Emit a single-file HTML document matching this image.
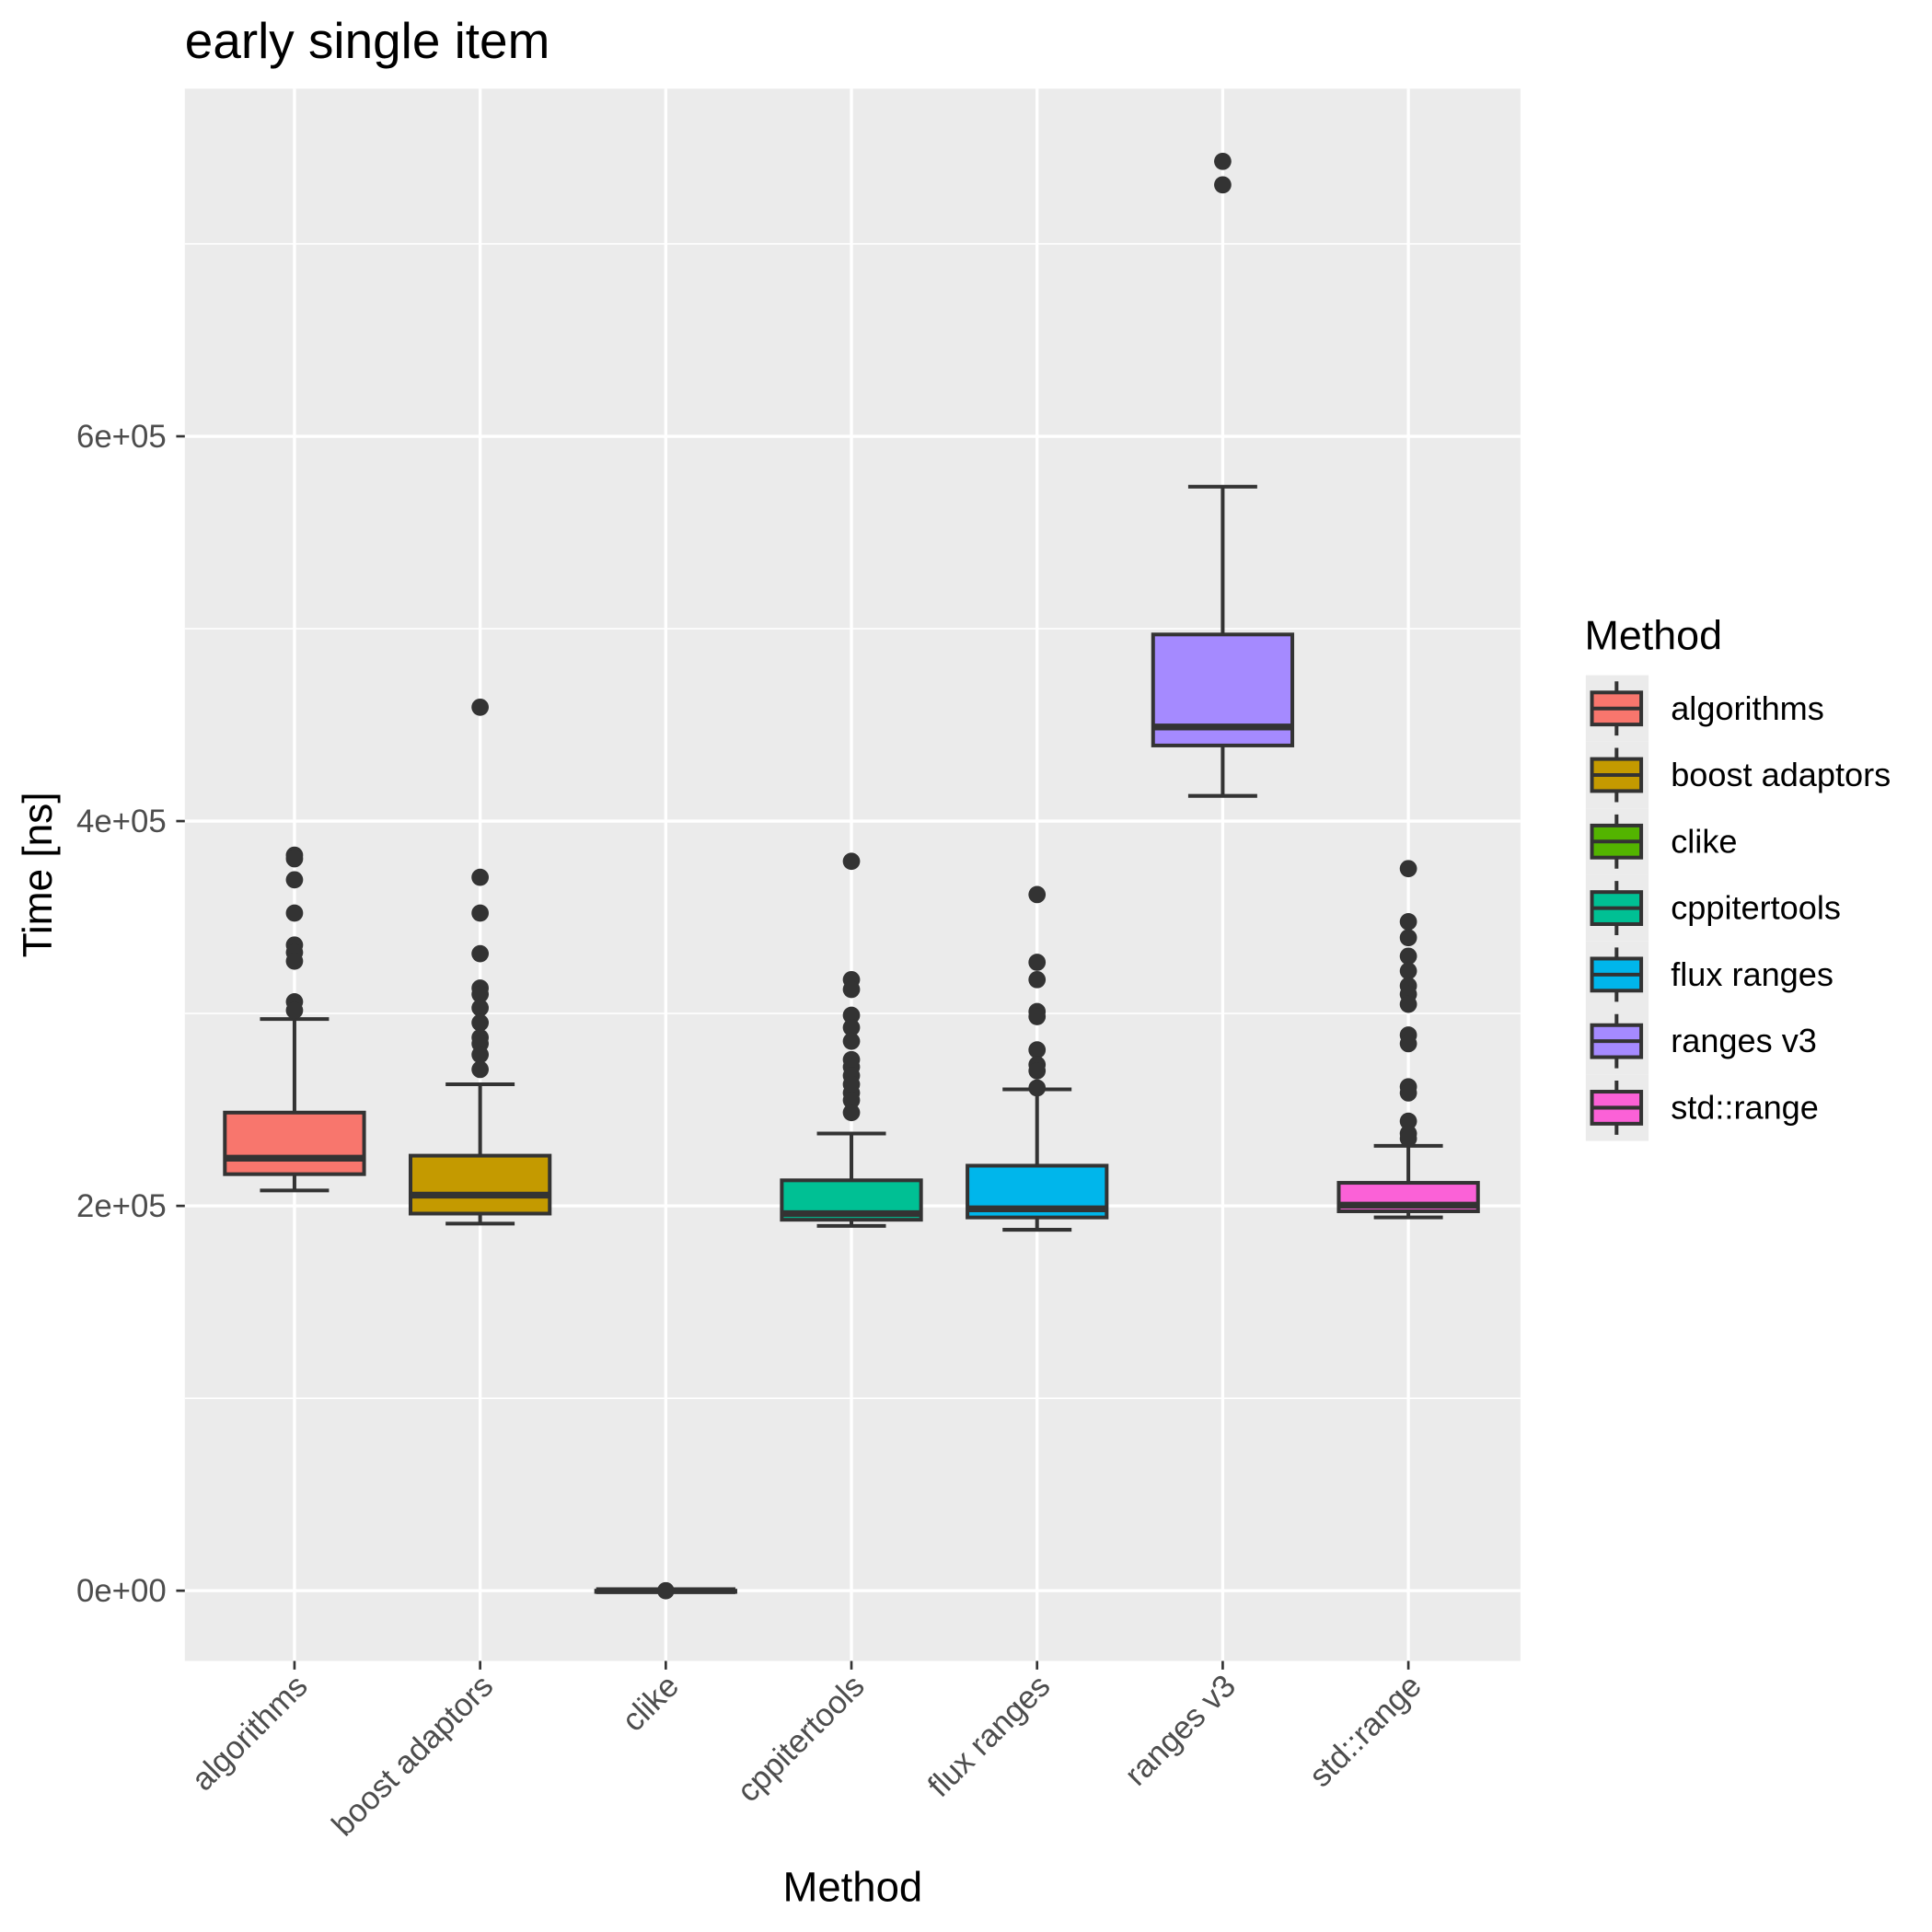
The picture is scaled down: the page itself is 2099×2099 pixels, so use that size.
<!DOCTYPE html>
<html><head><meta charset="utf-8"><style>html,body{margin:0;padding:0;background:#fff}svg{display:block}</style></head>
<body>
<svg id="chart" width="2099" height="2099" viewBox="0 0 1568 1568" xmlns="http://www.w3.org/2000/svg" font-family="Liberation Sans, sans-serif">
<rect x="0" y="0" width="1568" height="1568" fill="#fff"/>
<text x="150" y="47" font-size="41" fill="#000">early single item</text>
<rect x="150" y="72" width="1084" height="1276" fill="#ebebeb"/>
<g id="grid"></g>
<g id="marks"></g>
<g id="axes"></g>
<text transform="translate(42,710) rotate(-90)" text-anchor="middle" font-size="33" fill="#000">Time [ns]</text>
<text x="692" y="1543" text-anchor="middle" font-size="34" fill="#000">Method</text>
<g id="legend">
<text x="1286" y="527" font-size="33.5" fill="#000">Method</text>
</g>
</svg>
<script>
const categories = ["algorithms","boost adaptors","clike","cppitertools","flux ranges","ranges v3","std::range"];
const colors = ["#F8766D","#C49A00","#53B400","#00C094","#00B6EB","#A58AFF","#FB61D7"];
const lowWhisker = [208000,190800,0,189600,187600,413100,194000];
const q1 = [216500,196000,0,192800,194000,439300,197200];
const median = [224800,205600,0,196000,198500,448900,200400];
const q3 = [248500,226100,0,213300,220900,497000,212000];
const highWhisker = [297100,263200,0,237600,260600,573800,231200];
const outliers = [
 [382300,380400,369500,352200,335600,331700,327200,306100,301600],
 [459200,370800,352200,331100,313200,310000,302900,295200,287500,284300,278600,270900],
 [0],
 [379100,317600,312500,299100,292700,285600,276000,272200,267700,263200,258700,254900,248500],
 [361800,326600,317600,301000,298400,281100,273400,270200,261300],
 [742900,730700],
 [375300,347700,339400,329800,322100,314400,310000,304800,288800,284300,261900,258700,244000,237600,235000]
];
const yTicks = [0,200000,400000,600000];
const yTickLabels = ["0e+00","2e+05","4e+05","6e+05"];
const yMinor = [100000,300000,500000,700000];

const NS="http://www.w3.org/2000/svg";
function yS(v){return 1291 - v*(312.3/200000);}
function xS(i){return 239 + i*150.67;}
function mk(tag,attrs,parent){const e=document.createElementNS(NS,tag);for(const k in attrs)e.setAttribute(k,attrs[k]);parent.appendChild(e);return e;}
const grid=document.getElementById('grid'),marks=document.getElementById('marks'),axes=document.getElementById('axes'),legend=document.getElementById('legend');
yMinor.forEach(v=>{const l=mk('line',{x1:150,x2:1234,y1:yS(v),y2:yS(v),stroke:'#fff','stroke-width':1.2},grid);

});
yTicks.forEach((v,i)=>{const l=mk('line',{x1:150,x2:1234,y1:yS(v),y2:yS(v),stroke:'#fff','stroke-width':2.5},grid);


const t=mk('line',{x1:143,x2:150,y1:yS(v),y2:yS(v),stroke:'#333','stroke-width':2},axes);


const tx=mk('text',{x:135,y:yS(v)+9,'text-anchor':'end','font-size':26,fill:'#4d4d4d'},axes);tx.textContent=yTickLabels[i];

});
categories.forEach((c,i)=>{const x=xS(i);
const l=mk('line',{x1:x,x2:x,y1:72,y2:1348,stroke:'#fff','stroke-width':2.5},grid);


const t=mk('line',{x1:x,x2:x,y1:1348,y2:1355,stroke:'#333','stroke-width':2},axes);


const tx=mk('text',{transform:`translate(${x+12},${1370}) rotate(-45)`,'text-anchor':'end','font-size':26,fill:'#4d4d4d'},axes);tx.textContent=c;


const g=mk('g',{},marks);


const w=113/2, cw=28;
mk('line',{x1:x,x2:x,y1:yS(highWhisker[i]),y2:yS(q3[i]),stroke:'#333','stroke-width':3},g);
mk('line',{x1:x,x2:x,y1:yS(q1[i]),y2:yS(lowWhisker[i]),stroke:'#333','stroke-width':3},g);
mk('line',{x1:x-cw,x2:x+cw,y1:yS(highWhisker[i]),y2:yS(highWhisker[i]),stroke:'#333','stroke-width':3},g);
mk('line',{x1:x-cw,x2:x+cw,y1:yS(lowWhisker[i]),y2:yS(lowWhisker[i]),stroke:'#333','stroke-width':3},g);
const h=Math.max(yS(q1[i])-yS(q3[i]),1);
mk('rect',{x:x-w,y:yS(q3[i]),width:2*w,height:h,fill:colors[i],stroke:'#333','stroke-width':3},g);
mk('line',{x1:x-w,x2:x+w,y1:yS(median[i]),y2:yS(median[i]),stroke:'#333','stroke-width':5.5},g);
outliers[i].forEach(o=>{const p=mk('circle',{cx:x,cy:yS(o),r:7,fill:'#333'},g);

});
const ky=575+i*54;
const kg=mk('g',{},legend);


mk('rect',{x:1287,y:ky-27,width:51,height:54,fill:'#ebebeb'},kg);
mk('line',{x1:1312,x2:1312,y1:ky-22,y2:ky+22,stroke:'#333','stroke-width':3},kg);
mk('rect',{x:1292,y:ky-13,width:40,height:26,fill:colors[i],stroke:'#333','stroke-width':3},kg);
mk('line',{x1:1292,x2:1332,y1:ky,y2:ky,stroke:'#333','stroke-width':3},kg);
const lt=mk('text',{x:1356,y:ky+9,'font-size':27,fill:'#000'},kg);lt.textContent=c;
});
</script>
</body></html>
